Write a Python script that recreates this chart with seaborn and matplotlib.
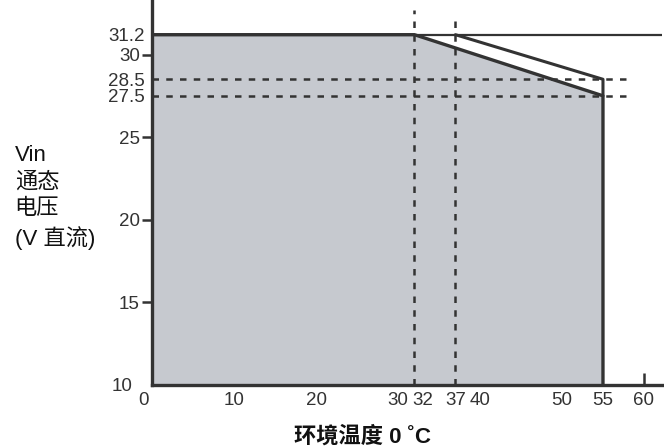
import matplotlib
matplotlib.use('Agg')
import matplotlib.pyplot as plt
import matplotlib.transforms as mtransforms
import pandas as pd
import seaborn as sns

# data
derate_temp = [0, 0, 32, 55, 55]
derate_vin = [10, 31.2, 31.2, 27.5, 10]
max_temp = [37, 55, 55]
max_vin = [31.2, 28.5, 27.5]
ceiling_temp = [0, 62.2]
ceiling_vin = [31.2, 31.2]
x_major = [0, 10, 20, 30, 40, 50, 60]
x_marked = [32, 37, 55]
y_major = [15, 20, 25, 30]
y_marked = [10, 27.5, 28.5, 31.2]
guide_temp = [32, 37]
guide_temp_top = [32.7, 32.2]
guide_vin = [28.5, 27.5]
guide_vin_end = 57.8

sns.set_style('white')
plt.rcParams['font.family'] = ['Liberation Sans', 'Noto Sans CJK SC', 'DejaVu Sans']

dark = '#333333'
fill = '#c6c9cf'

fig = plt.figure(figsize=(6.64, 4.48), dpi=100)
ax = fig.add_axes([0.229, 0.141, 0.768, 0.859])

df_derate = pd.DataFrame({'temp': derate_temp, 'vin': derate_vin})
df_max = pd.DataFrame({'temp': max_temp, 'vin': max_vin})
df_ceil = pd.DataFrame({'temp': ceiling_temp, 'vin': ceiling_vin})

ax.fill_between(df_derate['temp'], 10, df_derate['vin'], color=fill, lw=0, zorder=1)

# dashed guides
dash = (0, (2.6, 2.9))
for t, top in zip(guide_temp, guide_temp_top):
    ax.plot([t, t], [10, top], color=dark, lw=1.8, ls=dash, zorder=2)
for v in guide_vin:
    ax.plot([0, guide_vin_end], [v, v], color=dark, lw=1.8, ls=dash, zorder=2)

sns.lineplot(data=df_ceil, x='temp', y='vin', sort=False, estimator=None,
             color=dark, lw=1.6, ax=ax, zorder=3)
sns.lineplot(data=df_derate, x='temp', y='vin', sort=False, estimator=None,
             color=dark, lw=2.4, ax=ax, zorder=4)
sns.lineplot(data=df_max, x='temp', y='vin', sort=False, estimator=None,
             color=dark, lw=2.2, ax=ax, zorder=4)

ax.set_xlim(0, 62.2)
ax.set_ylim(10, 33.3)

for s in ['top', 'right']:
    ax.spines[s].set_visible(False)
for s in ['left', 'bottom']:
    ax.spines[s].set_color(dark)
    ax.spines[s].set_linewidth(2.4)

# x ticks
ax.set_xticks(x_major)
ax.set_xticklabels([str(v) for v in x_major])
ax.set_xticks(x_marked, minor=True)
ax.set_xticklabels([str(v) for v in x_marked], minor=True)
ax.tick_params(axis='x', which='major', bottom=True, direction='in', length=9,
               width=1.8, color=dark, labelsize=13.5, labelcolor=dark, pad=5)
ax.tick_params(axis='x', which='minor', bottom=True, length=0, labelsize=13.5,
               labelcolor=dark, pad=5)
ax.get_xticklines()[0].set_visible(False)
ax.get_xticklines()[1].set_visible(False)


def shift(label, px):
    label.set_transform(label.get_transform() +
                        mtransforms.ScaledTranslation(px / 100, 0, fig.dpi_scale_trans))


shift(ax.get_xticklabels()[0], -9)
shift(ax.get_xticklabels(minor=True)[0], 8)

# y ticks
ax.set_yticks(y_major)
ax.set_yticklabels([str(v) for v in y_major])
ax.set_yticks(y_marked, minor=True)
ax.set_yticklabels([f'{v:g}' for v in y_marked], minor=True)
ax.tick_params(axis='y', which='major', left=True, direction='inout', length=14.4,
               width=1.8, color=dark, labelsize=13.5, labelcolor=dark, pad=1.5)
ax.tick_params(axis='y', which='minor', left=True, length=0, labelsize=13.5,
               labelcolor=dark, pad=5)
shift(ax.get_yticklabels(minor=True)[0], -13)

ax.set_xlabel('')
ax.set_ylabel('')
fig.text(362 / 664, 1 - 437 / 448, '环境温度 0 ˚C', fontsize=16, color='#111111',
         fontweight='bold', ha='center', va='center')
fig.text(0.022, 1 - 145 / 448, 'Vin\n通态\n电压\n(V 直流)', fontsize=16, color='#111111',
         ha='left', va='top', linespacing=1.35)

fig.savefig('out.png', dpi=100)
